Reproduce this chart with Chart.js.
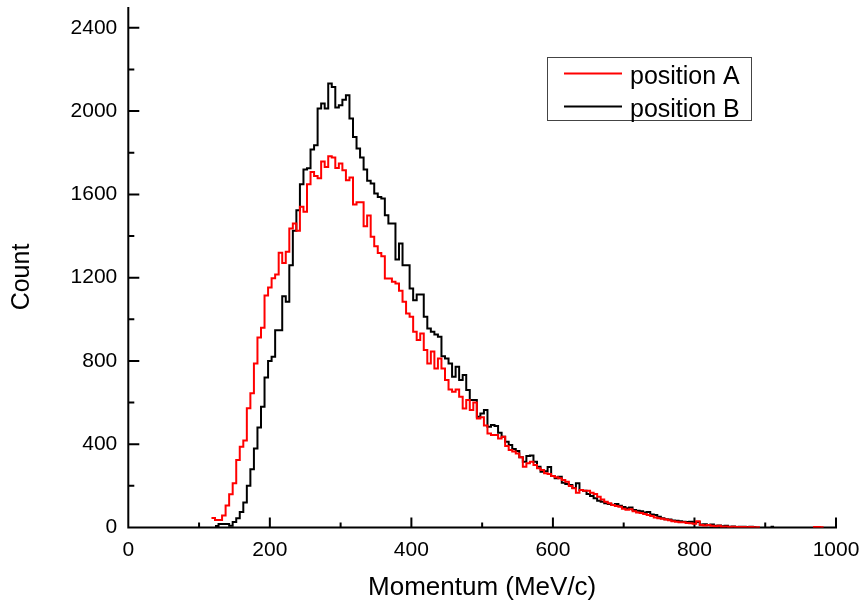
<!DOCTYPE html>
<html>
<head>
<meta charset="utf-8">
<script src="https://cdn.jsdelivr.net/npm/chart.js@4/dist/chart.umd.min.js"></script>
<style>
  html, body { margin: 0; padding: 0; background: #ffffff; }
  canvas { display: block; }
</style>
</head>
<body>
<canvas id="c" width="863" height="603"></canvas>
<script>
// ---- data ----
const binFirstCenter = 120;   // MeV/c, centre of first bin
const binWidth = 5;           // MeV/c
const seriesNames = ["position A", "position B"];
const seriesColors = ["#ff0000", "#000000"];

const countsA = [
  46, 36, 36, 58, 106, 160, 213, 324, 388, 418,
  573, 645, 788, 913, 960, 1114, 1153, 1197, 1215, 1320,
  1271, 1324, 1436, 1460, 1425, 1540, 1516, 1649, 1708, 1688,
  1678, 1758, 1732, 1783, 1777, 1727, 1748, 1716, 1668, 1681,
  1551, 1562, 1562, 1447, 1498, 1396, 1351, 1319, 1303, 1196,
  1196, 1180, 1172, 1137, 1084, 1028, 1012, 940, 900, 932,
  852, 788, 845, 764, 812, 764, 708, 663, 652, 663,
  628, 572, 612, 564, 600, 524, 530, 490, 452, 444,
  444, 428, 436, 391, 372, 365, 356, 337, 292, 308,
  316, 300, 284, 276, 260, 257, 247, 241, 236, 228,
  220, 199, 188, 167, 180, 177, 176, 167, 161, 148,
  135, 124, 116, 108, 103, 100, 90, 85, 88, 78,
  72, 70, 65, 60, 55, 48, 45, 42, 38, 35,
  30, 28, 25, 25, 22, 20, 18, 30, 12, 10,
  12, 8, 6, 8, 4, 5, 3, 4, 2, 3,
  2, 1, 2, 1, 1, null, null, null, null, null,
  null, null, null, null, null, null, null, null, null, null,
  2, 2, 1
];

const countsB = [
  null, 7, 17, 17, 17, 8, 26, 45, 75, 120,
  200, 280, 380, 480, 580, 720, 800, 820, 948, 948,
  1111, 1084, 1260, 1425, 1524, 1649, 1719, 1726, 1815, 1836,
  2012, 2036, 2012, 2132, 2116, 2017, 2028, 2055, 2076, 1964,
  1876, 1820, 1777, 1719, 1665, 1652, 1604, 1588, 1580, 1500,
  1460, 1460, 1287, 1364, 1260, 1260, 1148, 1092, 1119, 1119,
  1012, 956, 940, 927, 916, 823, 812, 788, 724, 772,
  708, 732, 660, 612, 612, 532, 548, 564, 484, 492,
  488, 455, 436, 412, 396, 377, 367, 337, 316, 343,
  346, 316, 292, 268, 270, 290, 247, 236, 244, 215,
  209, 204, 190, 212, 180, 177, 161, 151, 140, 129,
  124, 116, 113, 108, 113, 105, 98, 92, 96, 84,
  80, 78, 72, 74, 62, 60, 52, 45, 40, 38,
  34, 32, 30, 28, 26, 28, 24, 26, 14, 16,
  12, 14, 9, 10, 6, 8, 4, 5, 3, 4,
  4, 3, 4, 1, null, null, null, null, 4, null
];

const xTicks = [0, 200, 400, 600, 800, 1000];
const xMinorTicks = [100, 300, 500, 700, 900];
const yTicks = [0, 400, 800, 1200, 1600, 2000, 2400];
const yMinorTicks = [200, 600, 1000, 1400, 1800, 2200];
const xRange = [0, 1000];
const yRange = [0, 2500];
const xTitle = "Momentum (MeV/c)";
const yTitle = "Count";

// build histogram outline points (left and right edge of every bin)
function histPoints(counts) {
  const pts = [];
  for (let i = 0; i < counts.length; i++) {
    const c = binFirstCenter + i * binWidth;
    const v = counts[i];
    if (v === null || v === undefined) {
      pts.push({ x: c, y: null });
    } else {
      pts.push({ x: c - binWidth / 2, y: v });
      pts.push({ x: c + binWidth / 2, y: v });
    }
  }
  return pts;
}

const FONT = "'Liberation Sans', Arial, Helvetica, sans-serif";

const axesPlugin = {
  id: 'originAxes',
  beforeDatasetsDraw(chart) {
    const ctx = chart.ctx;
    const xs = chart.scales.x, ys = chart.scales.y;
    const x0 = xs.getPixelForValue(xRange[0]);
    const x1 = xs.getPixelForValue(xRange[1]);
    const y0 = ys.getPixelForValue(yRange[0]);
    const y1 = ys.getPixelForValue(yRange[1]);
    ctx.save();
    ctx.strokeStyle = '#000';
    ctx.lineWidth = 2;
    ctx.lineCap = 'butt';
    ctx.beginPath();
    ctx.moveTo(x0, y1); ctx.lineTo(x0, y0 + 1);
    ctx.moveTo(x0 - 1, y0); ctx.lineTo(x1 + 1, y0);
    xTicks.forEach(v => { const p = xs.getPixelForValue(v); ctx.moveTo(p, y0); ctx.lineTo(p, y0 - 10); });
    xMinorTicks.forEach(v => { const p = xs.getPixelForValue(v); ctx.moveTo(p, y0); ctx.lineTo(p, y0 - 5); });
    yTicks.forEach(v => { const p = ys.getPixelForValue(v); ctx.moveTo(x0, p); ctx.lineTo(x0 + 11, p); });
    yMinorTicks.forEach(v => { const p = ys.getPixelForValue(v); ctx.moveTo(x0, p); ctx.lineTo(x0 + 6, p); });
    ctx.stroke();
    ctx.restore();
  },
  afterDraw(chart) {
    const ctx = chart.ctx;
    ctx.save();
    // y axis title
    ctx.fillStyle = '#000';
    ctx.font = "25px " + FONT;
    ctx.textAlign = 'center';
    ctx.textBaseline = 'middle';
    ctx.translate(22, 277);
    ctx.rotate(-Math.PI / 2);
    ctx.fillText(yTitle, 0, 0);
    ctx.restore();

    ctx.save();
    // legend box
    ctx.strokeStyle = '#444';
    ctx.lineWidth = 1;
    ctx.strokeRect(547.5, 57.5, 204, 63);
    const rows = [73.5, 106.5];
    chart.data.datasets.forEach((ds, i) => {
      ctx.strokeStyle = ds.borderColor;
      ctx.lineWidth = 2;
      ctx.beginPath();
      ctx.moveTo(564, rows[i]); ctx.lineTo(622, rows[i]);
      ctx.stroke();
      ctx.fillStyle = '#000';
      ctx.font = "25px " + FONT;
      ctx.textBaseline = 'alphabetic';
      ctx.textAlign = 'left';
      ctx.fillText(ds.label, 630, rows[i] + 10);
    });
    ctx.restore();
  }
};

const bgPlugin = {
  id: 'bg',
  beforeDraw(chart) {
    const ctx = chart.ctx;
    ctx.save();
    ctx.fillStyle = '#fff';
    ctx.fillRect(0, 0, chart.width, chart.height);
    ctx.restore();
  }
};

new Chart(document.getElementById('c'), {
  type: 'line',
  data: {
    datasets: [
      { label: seriesNames[0], data: histPoints(countsA), borderColor: seriesColors[0], borderWidth: 2, pointRadius: 0, tension: 0, spanGaps: false, fill: false },
      { label: seriesNames[1], data: histPoints(countsB), borderColor: seriesColors[1], borderWidth: 2, pointRadius: 0, tension: 0, spanGaps: false, fill: false }
    ]
  },
  options: {
    responsive: false,
    animation: false,
    devicePixelRatio: 1,
    layout: { padding: { top: 7, right: 27, left: 0, bottom: 0 } },
    plugins: { legend: { display: false }, tooltip: { enabled: false } },
    scales: {
      x: {
        type: 'linear',
        min: xRange[0], max: xRange[1],
        afterBuildTicks: s => { s.ticks = xTicks.map(v => ({ value: v })); },
        afterFit: s => { s.height = 75.5; s.paddingLeft = 0; s.paddingRight = 0; },
        grid: { display: false, drawTicks: false },
        border: { display: false },
        ticks: { color: '#000', font: { family: FONT, size: 21 }, padding: 10, maxRotation: 0, autoSkip: false, callback: v => String(v) },
        title: { display: true, text: xTitle, color: '#000', font: { family: FONT, size: 26, lineHeight: 1 }, padding: { top: 0, bottom: 2 } }
      },
      y: {
        type: 'linear',
        min: yRange[0], max: yRange[1],
        afterBuildTicks: s => { s.ticks = yTicks.map(v => ({ value: v })); },
        afterFit: s => { s.width = 128.3; s.paddingTop = 0; s.paddingBottom = 0; },
        grid: { display: false, drawTicks: false },
        border: { display: false },
        ticks: { color: '#000', font: { family: FONT, size: 21 }, padding: 11, autoSkip: false, callback: v => String(v) },
        title: { display: false }
      }
    }
  },
  plugins: [bgPlugin, axesPlugin]
});
</script>
</body>
</html>
